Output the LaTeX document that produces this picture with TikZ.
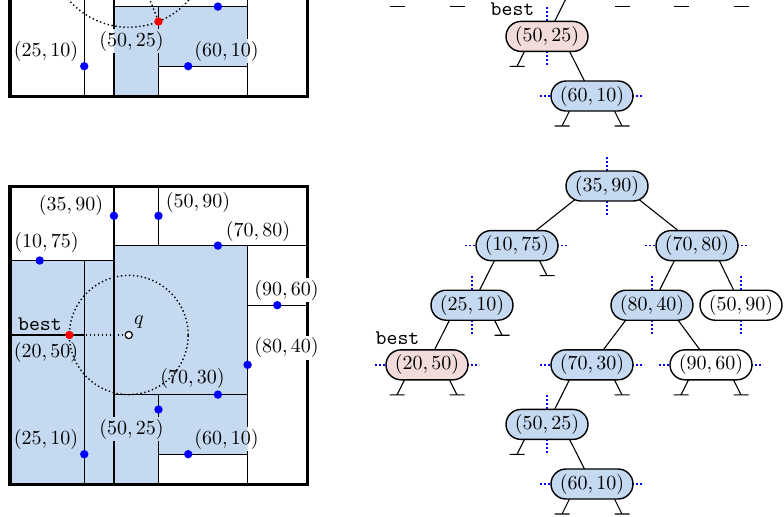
\documentclass[tikz,border=0pt]{standalone}
\usetikzlibrary{calc}
\pgfdeclarelayer{bg}
\pgfsetlayers{bg,main}
\definecolor{cellblue}{RGB}{197,217,241}
\definecolor{bestpink}{RGB}{242,220,219}
\definecolor{ptblue}{RGB}{0,0,255}
\newcommand{\kdsplits}{%
  \draw[splitline] (35,0) -- (35,100);
  \draw[splitline] (0,75) -- (35,75);
  \draw[splitline] (25,0) -- (25,75);
  \draw[splitline] (0,50) -- (25,50);
  \draw[splitline] (35,80) -- (100,80);
  \draw[splitline] (50,80) -- (50,100);
  \draw[splitline] (80,0) -- (80,80);
  \draw[splitline] (35,30) -- (80,30);
  \draw[splitline] (50,0) -- (50,30);
  \draw[splitline] (50,10) -- (80,10);
  \draw[splitline] (80,60) -- (100,60);
  \draw[boxline] (0,0) rectangle (100,100);
}
\newcommand{\kdnullR}[1]{\draw[tedge] ($(#1)+(15,0)$) -- ($(#1)+(30,30)$) ($(#1)+(22.5,30)$) -- ($(#1)+(37.5,30)$);}
\newcommand{\kdnullL}[1]{\draw[tedge] ($(#1)+(-15,0)$) -- ($(#1)+(-30,30)$) ($(#1)+(-22.5,30)$) -- ($(#1)+(-37.5,30)$);}
\newcommand{\kdvsplit}[1]{\draw[tsplit] ($(#1)+(0,-29)$) -- ($(#1)+(0,29)$);}
\newcommand{\kdhsplit}[1]{\draw[tsplit] ($(#1)+(-52,0)$) -- ($(#1)+(52,0)$);}
\newcommand{\kdedgeL}[2]{\draw[tedge] ($(#1)+(-15,0)$) -- (#2.center);}
\newcommand{\kdedgeR}[2]{\draw[tedge] ($(#1)+(15,0)$) -- (#2.center);}
\begin{document}
\begin{tikzpicture}[x=0.5pt,y=-0.5pt,
  font=\fontsize{10.4}{12.5}\selectfont,
  splitline/.style={line width=0.7pt},
  boxline/.style={line width=1.5pt},
  lab/.style={fill=white, inner sep=1pt},
  pt/.style={circle, fill=ptblue, inner sep=0pt, minimum size=4.2pt},
  bestpt/.style={pt, fill=red},
  qpt/.style={circle, draw=black, fill=white, line width=0.6pt, inner sep=0pt, minimum size=3.6pt},
  tn/.style={draw=black, line width=0.7pt, rounded corners=7.5pt, minimum width=41pt, minimum height=15pt, inner sep=0pt, fill=cellblue},
  tnw/.style={tn, fill=white},
  tnb/.style={tn, fill=bestpink},
  tedge/.style={line width=0.55pt},
  tsplit/.style={ptblue, line width=0.7pt, dash pattern=on 0.8pt off 1.2pt},
  searchline/.style={line width=0.7pt, dash pattern=on 0.7pt off 1.3pt},
  cellfill/.style={fill=cellblue, blend mode=multiply},
]
\useasboundingbox (0,0) rectangle (784,516);
\clip (0,0) rectangle (784,516);

% ================= upper-left panel (partial) =================
\begin{scope}[shift={(10,96)}, x=1.485pt, y=1.49pt]
  \kdsplits
\end{scope}
\node[lab] (ul2510) at (46,51) {$(25,10)$};
\node[lab] (ul5025) at (131.5,41) {$(50,25)$};
\node[lab] (ul6010) at (226.5,51) {$(60,10)$};
\begin{scope}[shift={(10,96)}, x=1.485pt, y=1.49pt]
  \path[cellfill] (35,0) -- (50,0) -- (50,10) -- (80,10) -- (80,30) -- (35,30) -- cycle;
  \coordinate (uq) at (40,50);
  \draw[searchline] (40,50) circle [radius=26.926];
  \node[bestpt] (up5025) at (50,25) {};
  \draw[searchline] (up5025) -- (uq);
  \node[pt] (up2510) at (25,10) {};
  \node[pt] (up6010) at (60,10) {};
  \node[pt] (up7030) at (70,30) {};
\end{scope}

% ================= lower-left panel =================
\begin{scope}[shift={(10,484)}, x=1.485pt, y=1.49pt]
  \kdsplits
\end{scope}
\node[lab] (l3590) at (71,205.5) {$(35,90)$};
\node[lab] (l5090) at (198,202) {$(50,90)$};
\node[lab] (l7080) at (258,231) {$(70,80)$};
\node[lab] (l1075) at (46.5,242) {$(10,75)$};
\node[lab] (l9060) at (286.5,290) {$(90,60)$};
\node[lab] (l8040) at (286.5,347.5) {$(80,40)$};
\node[lab] (lbest) at (40,324) {\texttt{best}};
\node[lab] (l2050) at (46,352) {$(20,50)$};
\node[lab] (l2510) at (46,439) {$(25,10)$};
\node[lab] (l5025) at (131.5,429) {$(50,25)$};
\node[lab] (l7030) at (192.5,378) {$(70,30)$};
\node[lab] (l6010) at (226.5,439) {$(60,10)$};
\node[inner sep=0pt] (lq) at (139,322) {$q$};
\begin{scope}[shift={(10,484)}, x=1.485pt, y=1.49pt]
  \path[cellfill] (0,0) -- (50,0) -- (50,10) -- (80,10) -- (80,80) -- (35,80) -- (35,75) -- (0,75) -- cycle;
  \draw[searchline] (40,50) circle [radius=20];
  \node[qpt] (pq) at (40,50) {};
  \node[bestpt] (p2050) at (20,50) {};
  \draw[searchline] (p2050) -- (pq);
  \node[pt] (p3590) at (35,90) {};
  \node[pt] (p5090) at (50,90) {};
  \node[pt] (p7080) at (70,80) {};
  \node[pt] (p1075) at (10,75) {};
  \node[pt] (p9060) at (90,60) {};
  \node[pt] (p8040) at (80,40) {};
  \node[pt] (p7030) at (70,30) {};
  \node[pt] (p2510) at (25,10) {};
  \node[pt] (p5025) at (50,25) {};
  \node[pt] (p6010) at (60,10) {};
\end{scope}

% ================= upper-right tree (partial) =================
\coordinate (t2050) at (427,-23.2);
\coordinate (t7030) at (592,-23.2);
\coordinate (t9060) at (711,-23.2);
\node[tnb] (t5025) at (547,36.4) {$(50,25)$};
\node[tn] (t6010) at (592,96) {$(60,10)$};
\node[inner sep=0pt] (tbesttop) at (512.5,9) {\texttt{best}};
\begin{pgfonlayer}{bg}
  \kdedgeL{t7030}{t5025}
  \kdedgeR{t5025}{t6010}
  \kdnullL{t5025}
  \kdnullL{t6010}
  \kdnullR{t6010}
  \kdvsplit{t5025}
  \kdhsplit{t6010}
  \draw[tedge] ($(t2050)+(-37.5,30)$) -- ($(t2050)+(-22.5,30)$);
  \draw[tedge] ($(t2050)+(22.5,30)$) -- ($(t2050)+(37.5,30)$);
  \draw[tedge] ($(t7030)+(22.5,30)$) -- ($(t7030)+(37.5,30)$);
  \draw[tedge] ($(t9060)+(-37.5,30)$) -- ($(t9060)+(-22.5,30)$);
  \draw[tedge] ($(t9060)+(22.5,30)$) -- ($(t9060)+(37.5,30)$);
\end{pgfonlayer}

% ================= lower-right tree =================
\node[tn] (n3590) at (607,186) {$(35,90)$};
\node[tn] (n1075) at (517,245.6) {$(10,75)$};
\node[tn] (n7080) at (697,245.6) {$(70,80)$};
\node[tn] (n2510) at (472,305.2) {$(25,10)$};
\node[tn] (n8040) at (652,305.2) {$(80,40)$};
\node[tnw] (n5090) at (741,305.2) {$(50,90)$};
\node[tnb] (n2050) at (427,364.8) {$(20,50)$};
\node[tn] (n7030) at (592,364.8) {$(70,30)$};
\node[tnw] (n9060) at (711,364.8) {$(90,60)$};
\node[tn] (n5025) at (547,424.4) {$(50,25)$};
\node[tn] (n6010) at (592,484) {$(60,10)$};
\node[inner sep=0pt] (tbest) at (397.5,338) {\texttt{best}};
\begin{pgfonlayer}{bg}
  \kdedgeL{n3590}{n1075}
  \kdedgeR{n3590}{n7080}
  \kdedgeL{n1075}{n2510}
  \kdedgeL{n7080}{n8040}
  \kdedgeR{n7080}{n5090}
  \kdedgeL{n2510}{n2050}
  \kdedgeL{n8040}{n7030}
  \kdedgeR{n8040}{n9060}
  \kdedgeL{n7030}{n5025}
  \kdedgeR{n5025}{n6010}
  \kdnullR{n1075}
  \kdnullR{n2510}
  \kdnullL{n2050}
  \kdnullR{n2050}
  \kdnullR{n7030}
  \kdnullL{n9060}
  \kdnullR{n9060}
  \kdnullL{n5025}
  \kdnullL{n6010}
  \kdnullR{n6010}
  \kdvsplit{n3590}
  \kdvsplit{n2510}
  \kdvsplit{n8040}
  \kdvsplit{n5090}
  \kdvsplit{n5025}
  \kdhsplit{n1075}
  \kdhsplit{n7080}
  \kdhsplit{n2050}
  \kdhsplit{n7030}
  \kdhsplit{n9060}
  \kdhsplit{n6010}
\end{pgfonlayer}
\end{tikzpicture}
\end{document}
